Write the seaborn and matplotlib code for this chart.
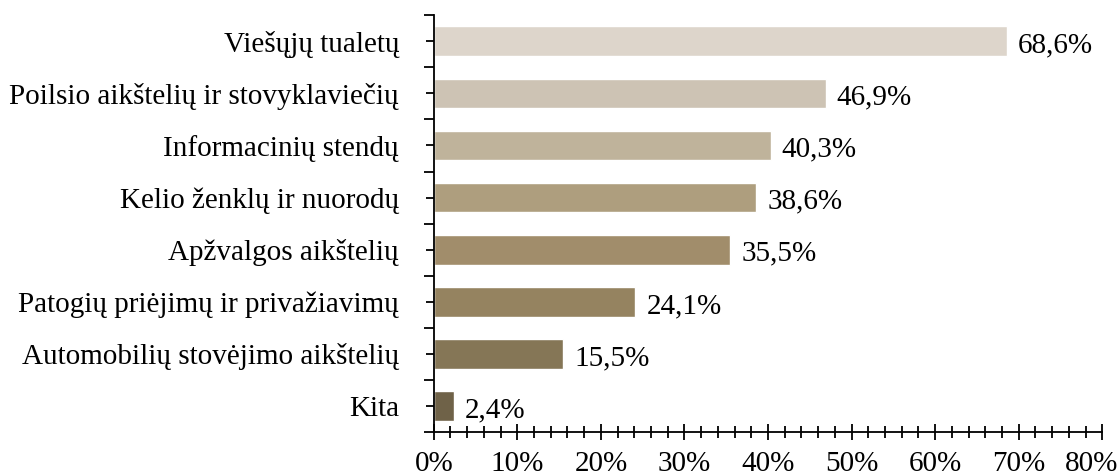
import matplotlib
matplotlib.use("Agg")
import matplotlib.pyplot as plt
import matplotlib.transforms as mtransforms
import seaborn as sns
import pandas as pd
from matplotlib.ticker import FixedLocator, MultipleLocator

categories = ["Viešųjų tualetų", "Poilsio aikštelių ir stovyklaviečių", "Informacinių stendų",
              "Kelio ženklų ir nuorodų", "Apžvalgos aikštelių", "Patogių priėjimų ir privažiavimų",
              "Automobilių stovėjimo aikštelių", "Kita"]
values = [68.6, 46.9, 40.3, 38.6, 35.5, 24.1, 15.5, 2.4]
labels = ["68,6%", "46,9%", "40,3%", "38,6%", "35,5%", "24,1%", "15,5%", "2,4%"]
xticks = [0, 10, 20, 30, 40, 50, 60, 70, 80]
colors = ["#DDD5CB", "#CDC3B4", "#BFB39B", "#AE9E7E", "#A18D6B", "#958360", "#857656", "#6F6248"]

sns.set_style("white")
plt.rcParams['font.family'] = ['Liberation Serif', 'DejaVu Serif']
plt.rcParams['text.color'] = 'black'
plt.rcParams['xtick.color'] = 'black'
plt.rcParams['ytick.color'] = 'black'

df = pd.DataFrame({"cat": categories, "val": values})
fig = plt.figure(figsize=(11.18, 4.76), dpi=100)
ax = fig.add_axes([0.388, 0.0924, 0.598, 0.8756])
sns.barplot(data=df, x="val", y="cat", hue="cat", palette=colors, order=categories,
            hue_order=categories, orient="h", width=0.57, legend=False, ax=ax, saturation=1)

ax.set_xlim(0, 80)
ax.set_ylim(7.5, -0.5)
ax.set_xticks(xticks)
ax.set_xticklabels([f"{t}%" for t in xticks])
ax.xaxis.set_minor_locator(MultipleLocator(2))
ax.yaxis.set_minor_locator(FixedLocator([i - 0.5 for i in range(len(categories) + 1)]))
ax.tick_params(axis="both", which="both", bottom=True, left=True, top=False, right=False)
ax.tick_params(axis="x", which="major", direction="inout", length=12, width=1.3, labelsize=21, pad=8)
ax.tick_params(axis="x", which="minor", direction="inout", length=9, width=1.3)
ax.tick_params(axis="y", which="major", direction="inout", length=12, width=1.3, labelsize=21, pad=19)
ax.tick_params(axis="y", which="minor", direction="out", length=7, width=1.3)
ax.set_xlabel("")
ax.set_ylabel("")
for s in ["top", "right"]:
    ax.spines[s].set_visible(False)
for s in ["left", "bottom"]:
    ax.spines[s].set_linewidth(1.3)
    ax.spines[s].set_color("black")

last = ax.xaxis.get_major_ticks()[-1].label1
last.set_transform(last.get_transform() + mtransforms.ScaledTranslation(-8 / 72, 0, fig.dpi_scale_trans))

for i, (v, lab) in enumerate(zip(values, labels)):
    ax.annotate(lab, xy=(v, i), xytext=(8, -3), textcoords="offset points",
                va="center", ha="left", fontsize=21)

fig.savefig("out.png", dpi=100)
